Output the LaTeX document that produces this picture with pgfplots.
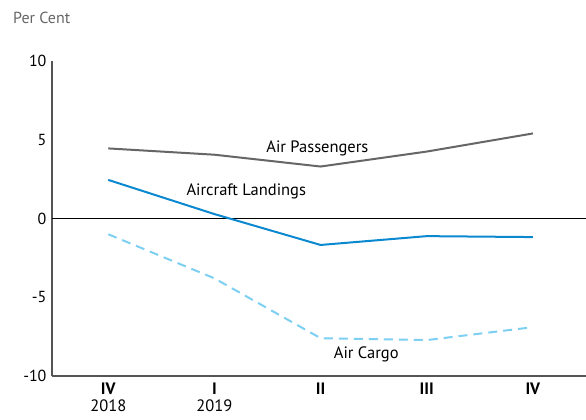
\documentclass[border=0pt]{standalone}
\usepackage{fontspec}
\setmainfont{PT Sans}
\usepackage{pgfplots}
\pgfplotsset{compat=1.18}
\definecolor{passgray}{HTML}{666666}
\definecolor{landblue}{HTML}{0A88D0}
\definecolor{cargoblue}{HTML}{7DD0F2}
\definecolor{axgray}{HTML}{555555}
\begin{document}
\begin{tikzpicture}
\begin{axis}[
  scale only axis,
  width=534pt, height=315pt,
  xmin=-0.53, xmax=4.5,
  ymin=-10, ymax=10,
  axis x line*=bottom, axis y line*=left,
  axis line style={axgray, line width=1.2pt, -},
  ytick={-10,-5,0,5,10},
  xtick={0,1,2,3,4},
  xticklabels={{\textbf{IV}\\2018},{\textbf{I}\\2019},{\textbf{II}},{\textbf{III}},{\textbf{IV}}},
  xticklabel style={align=center, font=\fontsize{16.5}{17}\selectfont, yshift=-3pt},
  yticklabel style={font=\fontsize{16}{18}\selectfont, xshift=-2pt},
  /pgf/number format/assume math mode=true,
  major tick length=0pt,
  clip=false,
]
\draw[black, line width=0.8pt] (axis cs:-0.53,0) -- (axis cs:4.5,0);
\addplot[passgray, line width=2pt] coordinates {(0,4.45) (1,4.05) (2,3.3) (3,4.25) (4,5.4)};
\addplot[landblue, line width=2pt] coordinates {(0,2.45) (1,0.28) (2,-1.68) (3,-1.12) (4,-1.18)};
\addplot[cargoblue, line width=2pt, dash pattern=on 9pt off 6pt] coordinates {(0,-1.0) (1,-3.8) (2,-7.6) (3,-7.72) (4,-6.9)};
\node[font=\fontsize{16.5}{18}\selectfont] at (axis cs:1.97,4.45) {Air Passengers};
\node[font=\fontsize{16.5}{18}\selectfont] at (axis cs:1.30,1.7) {Aircraft Landings};
\node[font=\fontsize{16.5}{18}\selectfont] at (axis cs:2.43,-8.6) {Air Cargo};
\node[font=\fontsize{16}{18}\selectfont, text=passgray, anchor=west, inner sep=0pt] at ([xshift=-39pt, yshift=43pt]rel axis cs:0,1) {Per Cent};
\coordinate (ll) at (rel axis cs:0,0);
\coordinate (ur) at (rel axis cs:1,1);
\end{axis}
\pgfresetboundingbox
\path ([shift={(-52pt,-44pt)}]ll) rectangle ([shift={(0pt,61pt)}]ur);
\end{tikzpicture}
\end{document}
